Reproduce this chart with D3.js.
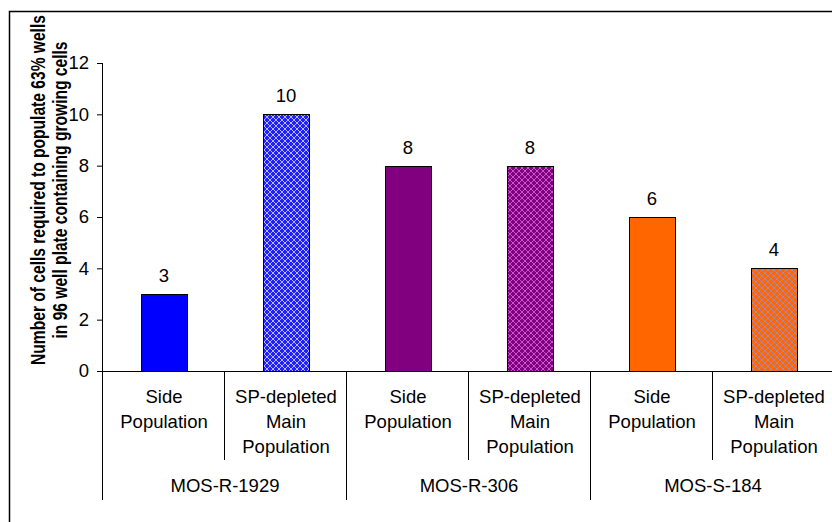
<!DOCTYPE html>
<html>
<head>
<meta charset="utf-8">
<script src="https://cdn.jsdelivr.net/npm/d3@7"></script>
<style>
  html, body { margin: 0; padding: 0; background: #fff; }
  svg { display: block; }
  text { font-family: Arial, "Liberation Sans", sans-serif; fill: #000; }
</style>
</head>
<body>
<svg id="chart" width="832" height="522"></svg>
<script>
// Cell lines (outer axis groups)
const groups = ["MOS-R-1929", "MOS-R-306", "MOS-S-184"];
// Sub-populations within each cell line (label lines)
const subLabels = [["Side", "Population"], ["SP-depleted", "Main", "Population"]];
// Cells required, in order: group × sub-population
const values = [3, 10, 8, 8, 6, 4];
// Fill styles: solid for side population, patterned for main population
const baseColors = ["#0000ff", "#2020ff", "#800080", "#800080", "#ff6600", "#ff6600"];
const patternLight = [null, "#c8c8ff", null, "#d060d0", null, "#a08cc0"];
const yTicks = [0, 2, 4, 6, 8, 10, 12];
const yTitle = ["Number of cells required to populate 63% wells",
                "in 96 well plate containing growing cells"];

const svg = d3.select("#chart");

// Outer chart frame
svg.append("rect")
  .attr("x", 9.5).attr("y", 11.5)
  .attr("width", 900).attr("height", 600)
  .attr("fill", "none").attr("stroke", "#000").attr("stroke-width", 1.5);

const plotLeft = 103, plotRight = 835, plotTop = 63, plotBottom = 371;
const n = values.length;

const y = d3.scaleLinear().domain([0, 12]).range([plotBottom, plotTop]);
const x = d3.scaleBand().domain(d3.range(n)).range([plotLeft, plotRight]).paddingInner(0).paddingOuter(0);
const edge = d3.scaleLinear().domain([0, n]).range([plotLeft, plotRight]);

// Diagonal-cross patterns for the main-population bars
const defs = svg.append("defs");
const tile = 6;
values.forEach((v, i) => {
  if (!patternLight[i]) return;
  const p = defs.append("pattern")
    .attr("id", "pat" + i)
    .attr("patternUnits", "userSpaceOnUse")
    .attr("width", tile).attr("height", tile);
  p.append("rect").attr("width", tile).attr("height", tile).attr("fill", baseColors[i]);
  p.append("path")
    .attr("d", `M0,0L${tile},${tile}M${tile},0L0,${tile}`)
    .attr("stroke", patternLight[i]).attr("stroke-width", 0.9).attr("fill", "none");
});

// Y axis
const yAxis = svg.append("g")
  .attr("transform", `translate(${plotLeft},0)`)
  .call(d3.axisLeft(y).tickValues(yTicks).tickSize(6).tickPadding(8).tickFormat(d3.format("d")));
yAxis.select(".domain").attr("stroke", "#000").attr("d", `M-0.5,${plotTop}V${plotBottom}`);
yAxis.selectAll(".tick line").attr("stroke", "#000");
yAxis.selectAll(".tick text").attr("font-size", 18.5).attr("font-family", "Arial, 'Liberation Sans', sans-serif").attr("fill", "#000");

// Bars
const barW = x.bandwidth() * 0.38;
svg.append("g").selectAll("rect")
  .data(values)
  .join("rect")
  .attr("x", (d, i) => Math.round(x(i) + (x.bandwidth() - barW) / 2) + 0.5)
  .attr("y", d => Math.round(y(d)) + 0.5)
  .attr("width", Math.round(barW))
  .attr("height", d => Math.round(y(0)) - Math.round(y(d)))
  .attr("fill", (d, i) => patternLight[i] ? `url(#pat${i})` : baseColors[i])
  .attr("stroke", "#000").attr("stroke-width", 1);

// Value labels
svg.append("g").selectAll("text")
  .data(values)
  .join("text")
  .attr("x", (d, i) => x(i) + x.bandwidth() / 2)
  .attr("y", d => y(d) - 12)
  .attr("text-anchor", "middle")
  .attr("font-size", 18.5)
  .text(d => d);

// X axis baseline and category separators
svg.append("line")
  .attr("x1", plotLeft - 6).attr("x2", plotRight)
  .attr("y1", plotBottom + 0.5).attr("y2", plotBottom + 0.5)
  .attr("stroke", "#000");
d3.range(n + 1).forEach(k => {
  const isGroupEdge = k % 2 === 0;
  svg.append("line")
    .attr("x1", Math.round(edge(k)) - 0.5).attr("x2", Math.round(edge(k)) - 0.5)
    .attr("y1", plotBottom).attr("y2", isGroupEdge ? 500 : 460)
    .attr("stroke", "#000");
});

// Sub-population labels
const lineY = [397, 422, 447];
values.forEach((v, i) => {
  const lines = subLabels[i % 2];
  const t = svg.append("text")
    .attr("text-anchor", "middle")
    .attr("font-size", 18.5);
  lines.forEach((s, j) => {
    t.append("tspan")
      .attr("x", x(i) + x.bandwidth() / 2)
      .attr("y", lineY[j])
      .attr("dy", "0.35em")
      .text(s);
  });
});

// Cell line labels
svg.append("g").selectAll("text")
  .data(groups)
  .join("text")
  .attr("x", (d, g) => (edge(2 * g) + edge(2 * g + 2)) / 2)
  .attr("y", 486)
  .attr("dy", "0.35em")
  .attr("text-anchor", "middle")
  .attr("font-size", 18.5)
  .text(d => d);

// Y axis title (two lines, rotated, glyphs widened across the line)
const tt = svg.append("text")
  .attr("transform", "translate(0,190) rotate(-90) scale(1,1.25)")
  .attr("text-anchor", "middle")
  .attr("font-size", 15.6)
  .attr("font-weight", "bold");
yTitle.forEach((s, j) => {
  tt.append("tspan").attr("x", 0).attr("y", (38 + j * 22) / 1.25).attr("dy", "0.35em").text(s);
});
</script>
</body>
</html>
